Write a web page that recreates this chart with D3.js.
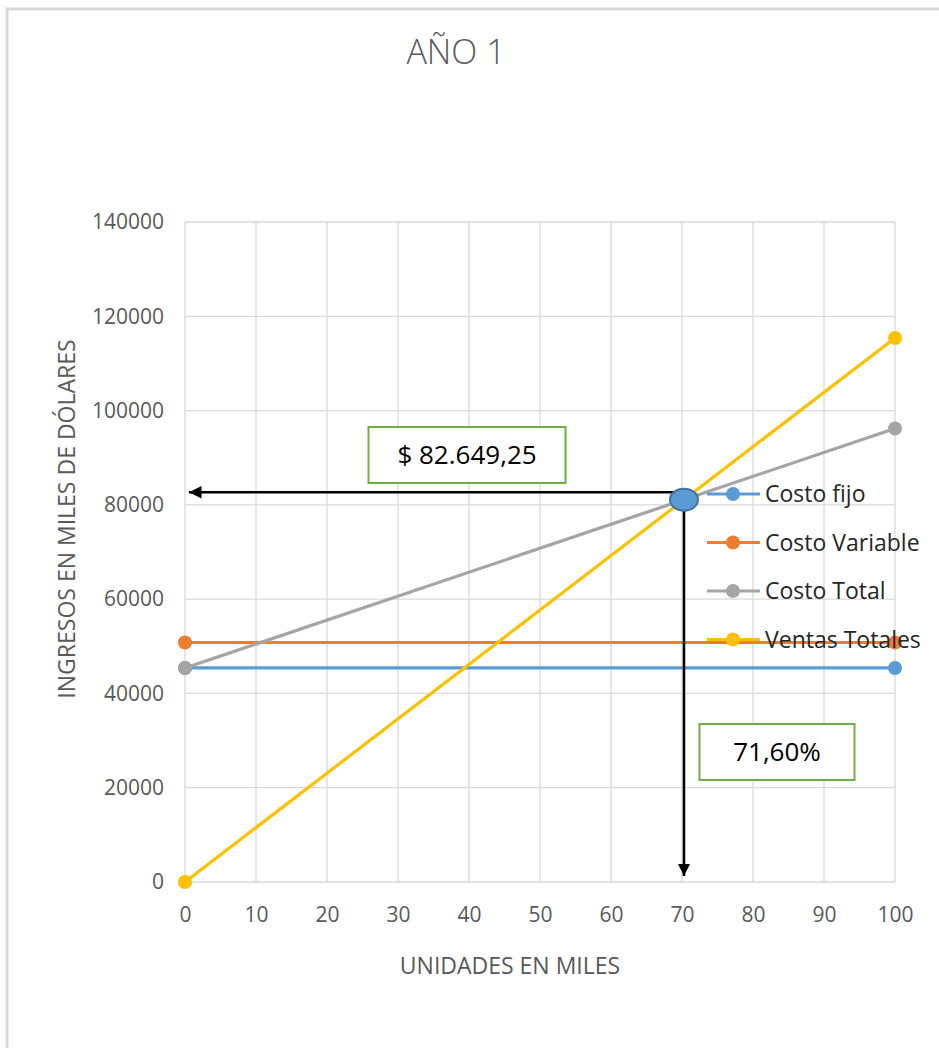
<!DOCTYPE html>
<html>
<head>
<meta charset="utf-8">
<script src="https://cdn.jsdelivr.net/npm/d3@7"></script>
<style>
  html, body { margin: 0; padding: 0; background: #fff; }
  svg { display: block; }
</style>
</head>
<body>
<svg id="chart" width="939" height="1048"></svg>
<script>
// Break-even chart, year 1
const title = "AÑO 1";
const xTicks = [0, 10, 20, 30, 40, 50, 60, 70, 80, 90, 100];
const yTicks = [0, 20000, 40000, 60000, 80000, 100000, 120000, 140000];
const units = [0, 100];
const costoFijo = [45400, 45400];
const costoVariable = [50800, 50800];
const costoTotal = [45400, 96200];
const ventasTotales = [0, 115400];
const seriesNames = ["Costo fijo", "Costo Variable", "Costo Total", "Ventas Totales"];
const seriesColors = ["#5B9BD5", "#ED7D31", "#A5A5A5", "#FFC000"];
const puntoEquilibrio = 82649.25;
const labelVentas = "$ 82.649,25";
const labelPct = "71,60%";

const svg = d3.select("#chart");
const W = 939, H = 1048;
const m = { left: 185, right: 44, top: 222, bottom: 166 };

const x = d3.scaleLinear().domain([0, 100]).range([m.left, W - m.right]);
const y = d3.scaleLinear().domain([0, 140000]).range([H - m.bottom, m.top]);

const font = "'Open Sans', Lato, sans-serif";
const grey = "#595959";

// outer frame (only top and left edges visible)
svg.append("path")
  .attr("d", `M7,${H + 5} L7,9 L${W + 5},9`)
  .attr("fill", "none").attr("stroke", "#d9d9d9").attr("stroke-width", 3);

// title
svg.append("text").attr("x", 456).attr("y", 52).attr("dy", "0.35em")
  .attr("text-anchor", "middle").attr("font-family", font).attr("font-weight", 300)
  .attr("font-size", 34).attr("fill", grey).text(title);

// gridlines
const grid = svg.append("g").attr("stroke", "#d9d9d9").attr("stroke-width", 1.3);
grid.selectAll("line.h").data(yTicks).join("line")
  .attr("x1", x(0)).attr("x2", x(100))
  .attr("y1", d => y(d)).attr("y2", d => y(d));
grid.selectAll("line.v").data(xTicks).join("line")
  .attr("y1", y(0)).attr("y2", y(140000))
  .attr("x1", d => x(d)).attr("x2", d => x(d));

// axes
const xAxis = svg.append("g").attr("transform", `translate(0,${y(0)})`)
  .call(d3.axisBottom(x).tickValues(xTicks).tickSize(0));
const yAxis = svg.append("g").attr("transform", `translate(${x(0)},0)`)
  .call(d3.axisLeft(y).tickValues(yTicks).tickSize(0).tickPadding(21).tickFormat(d3.format("d")));
[xAxis, yAxis].forEach(a => {
  a.select(".domain").remove();
  a.selectAll("text").attr("font-family", font).attr("font-size", 21).attr("fill", grey);
});
xAxis.selectAll("text").attr("y", 33).attr("dy", "0.35em");

// axis titles
svg.append("text").attr("x", 510).attr("y", 966).attr("dy", "0.35em")
  .attr("text-anchor", "middle").attr("font-family", font).attr("font-size", 23)
  .attr("fill", grey).text("UNIDADES EN MILES");
svg.append("text").attr("transform", `translate(67,519) rotate(-90)`)
  .attr("dy", "0.35em")
  .attr("text-anchor", "middle").attr("font-family", font).attr("font-size", 23)
  .attr("fill", grey).text("INGRESOS EN MILES DE DÓLARES");

// series
const allSeries = [costoFijo, costoVariable, costoTotal, ventasTotales];
const line = d3.line().x((d, i) => x(units[i])).y(d => y(d));
allSeries.forEach((vals, k) => {
  const g = svg.append("g");
  g.append("path").datum(vals).attr("d", line)
    .attr("fill", "none").attr("stroke", seriesColors[k]).attr("stroke-width", 3.2);
  g.selectAll("circle").data(vals).join("circle")
    .attr("cx", (d, i) => x(units[i])).attr("cy", d => y(d)).attr("r", 7)
    .attr("fill", seriesColors[k]);
});

// legend
const legend = svg.append("g");
seriesNames.forEach((name, k) => {
  const ly = 494 + k * 48.5;
  legend.append("line").attr("x1", 707).attr("x2", 760).attr("y1", ly).attr("y2", ly)
    .attr("stroke", seriesColors[k]).attr("stroke-width", 3.2);
  legend.append("circle").attr("cx", 733).attr("cy", ly).attr("r", 7).attr("fill", seriesColors[k]);
  legend.append("text").attr("x", 765).attr("y", ly).attr("dy", "0.35em")
    .attr("font-family", font).attr("font-size", 23).attr("fill", "#262626").text(name);
});

// break-even point: intersection of total cost and total sales
const a0 = costoTotal[0], a1 = costoTotal[1], b0 = ventasTotales[0], b1 = ventasTotales[1];
const t = (a0 - b0) / ((b1 - b0) - (a1 - a0));
const beX = units[0] + t * (units[1] - units[0]);
const beY = a0 + t * (a1 - a0);

// arrows
const defs = svg.append("defs");
defs.append("marker").attr("id", "arrow").attr("viewBox", "0 0 10 10")
  .attr("refX", 10).attr("refY", 5).attr("markerWidth", 5).attr("markerHeight", 5)
  .attr("markerUnits", "strokeWidth").attr("orient", "auto")
  .append("path").attr("d", "M0,0 L10,5 L0,10 Z").attr("fill", "#000");

svg.append("line")
  .attr("x1", x(beX)).attr("y1", y(puntoEquilibrio))
  .attr("x2", x(0) + 4).attr("y2", y(puntoEquilibrio))
  .attr("stroke", "#000").attr("stroke-width", 2.5).attr("marker-end", "url(#arrow)");
svg.append("line")
  .attr("x1", x(beX)).attr("y1", y(beY))
  .attr("x2", x(beX)).attr("y2", y(0) - 6)
  .attr("stroke", "#000").attr("stroke-width", 2.5).attr("marker-end", "url(#arrow)");

svg.append("ellipse").attr("cx", x(beX)).attr("cy", y(beY)).attr("rx", 14).attr("ry", 11)
  .attr("fill", "#5B9BD5").attr("stroke", "#41719C").attr("stroke-width", 2);

// value boxes
function box(cx, cy, w, h, txt) {
  svg.append("rect").attr("x", cx - w / 2).attr("y", cy - h / 2).attr("width", w).attr("height", h)
    .attr("fill", "#fff").attr("stroke", "#70AD47").attr("stroke-width", 2);
  svg.append("text").attr("x", cx).attr("y", cy).attr("dy", "0.35em").attr("text-anchor", "middle")
    .attr("font-family", font).attr("font-size", 26).attr("fill", "#000").text(txt);
}
box(467, 455, 197, 56, labelVentas);
box(777, 752, 155, 56, labelPct);
</script>
</body>
</html>
